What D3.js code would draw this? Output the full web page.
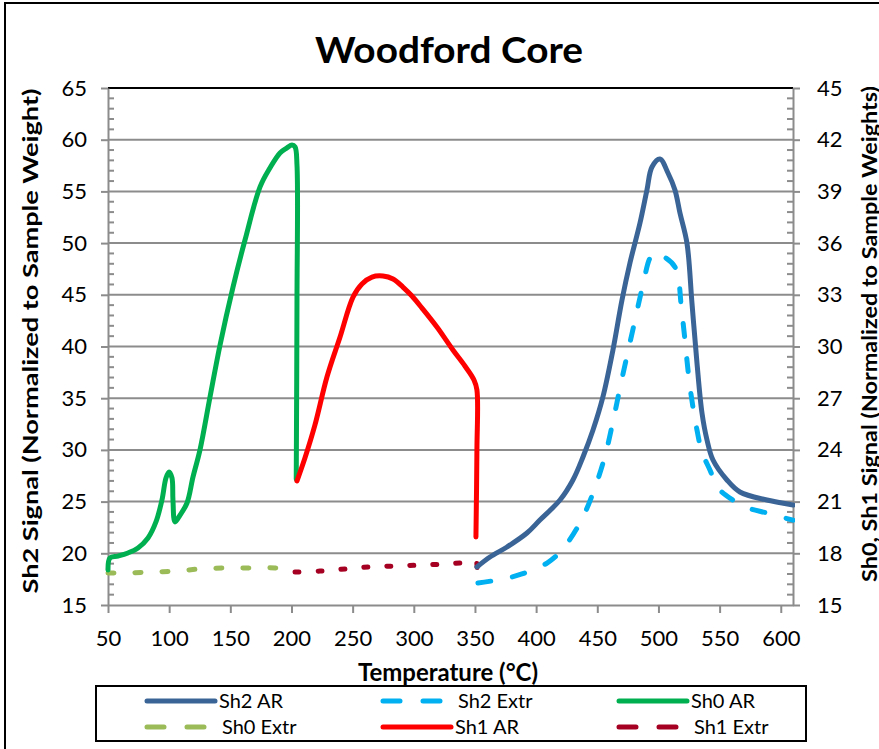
<!DOCTYPE html>
<html>
<head>
<meta charset="utf-8">
<script src="https://cdn.jsdelivr.net/npm/d3@7"></script>
<style>
  html, body { margin: 0; padding: 0; background: #fff; }
  svg text { font-family: Lato, "Open Sans", sans-serif; fill: #000; }
</style>
</head>
<body>
<svg id="chart" width="879" height="749"></svg>
<script>
// ---- Data: temperature (°C) and normalized signal ----
// Sh2 series are read against the left axis, Sh0/Sh1 against the right axis.
const sh2ArT = [351.6, 362.3, 376.2, 392.5, 403.1, 419.5, 430.1, 438.3, 446.5, 454.6, 462.8, 470.2, 476.7, 484.9, 490.6, 494.7, 501.2, 507.8, 513.5, 517.6, 523.3, 527.4, 531.5, 535.6, 539.7, 544.6, 556.0, 566.6, 588.7, 610];
const sh2ArV = [18.68, 19.64, 20.61, 21.96, 23.22, 25.15, 27.09, 29.31, 31.92, 35.12, 39.66, 44.50, 48.08, 51.94, 55.14, 57.36, 58.13, 56.78, 55.14, 52.91, 50.01, 44.21, 38.40, 33.57, 30.96, 29.02, 27.09, 25.93, 25.15, 24.67];

const sh2ExtrT = [352.4, 372.9, 388.4, 408.9, 421.1, 435.8, 446.5, 456.3, 463.6, 469.4, 478.3, 487.3, 493.1, 497.2, 502.9, 513.5, 519.2, 525.8, 531.5, 535.6, 542.1, 548.7, 560.9, 573.2, 588.7, 610];
const sh2ExtrV = [17.13, 17.51, 18.00, 19.06, 20.32, 22.93, 25.83, 29.41, 33.18, 36.47, 41.21, 45.95, 48.56, 49.10, 48.80, 47.69, 43.24, 36.08, 31.92, 29.80, 28.06, 26.32, 25.15, 24.38, 23.90, 23.20];

const sh0ArT = [50, 51.6, 58.2, 66.3, 74.5, 82.7, 89.2, 94.1, 97.4, 99.9, 102.3, 103.1, 104.8, 108.9, 114.6, 119.5, 125.2, 133.4, 141.6, 152.2, 162.0, 174.3, 182.4, 190.6, 196.3, 200.4, 202.9, 204.5, 204.5, 203.9];
const sh0ArV = [17.03, 17.73, 17.84, 18.02, 18.31, 18.89, 19.82, 21.09, 22.37, 22.72, 22.37, 21.09, 19.82, 20.22, 20.92, 22.43, 24.00, 27.07, 30.09, 33.45, 36.18, 39.26, 40.36, 41.23, 41.52, 41.69, 41.58, 40.53, 32.70, 22.30];

const sh0ExtrT = [50, 63.9, 84.3, 104.8, 125.2, 145.6, 166.1, 186.5, 197.1];
const sh0ExtrV = [16.86, 16.86, 16.91, 16.97, 17.09, 17.15, 17.15, 17.15, 17.09];

const sh1ArT = [204.5, 211.0, 219.2, 229.0, 239.7, 250.3, 257.6, 265.8, 274.8, 283.0, 291.1, 298.5, 306.7, 318.9, 332.0, 341.8, 349.2, 351.6, 351.6, 350.8];
const sh1ArV = [22.20, 23.53, 25.45, 28.23, 30.55, 32.87, 33.63, 34.03, 34.09, 33.92, 33.45, 32.93, 32.23, 31.13, 29.80, 28.87, 28.06, 27.48, 24.00, 18.95];

const sh1ExtrT = [202.9, 223.3, 243.7, 264.2, 284.6, 305.0, 325.5, 345.9, 350.8, 351.6];
const sh1ExtrV = [16.91, 16.97, 17.09, 17.21, 17.26, 17.32, 17.38, 17.50, 17.55, 16.91];

// ---- Axis ticks ----
const xTicks = [50, 100, 150, 200, 250, 300, 350, 400, 450, 500, 550, 600];
const yLeftTicks = [15, 20, 25, 30, 35, 40, 45, 50, 55, 60, 65];
const yRightTicks = [15, 18, 21, 24, 27, 30, 33, 36, 39, 42, 45];

const seriesNames = ["Sh2 AR", "Sh2 Extr", "Sh0 AR", "Sh0 Extr", "Sh1 AR", "Sh1 Extr"];
const seriesColors = ["#3A6496", "#00B0F0", "#00B050", "#9BBB59", "#FF0000", "#A50021"];

// ---- Layout ----
const svg = d3.select("#chart");
const plot = { left: 108, right: 793, top: 88, bottom: 605 };

const x = d3.scaleLinear().domain([50, 610]).range([plot.left, plot.right]);
const yL = d3.scaleLinear().domain([15, 65]).range([plot.bottom, plot.top]);
const yR = d3.scaleLinear().domain([15, 45]).range([plot.bottom, plot.top]);

// Outer chart border
svg.append("rect")
  .attr("x", 5).attr("y", 3).attr("width", 900).attr("height", 800)
  .attr("fill", "none").attr("stroke", "#000").attr("stroke-width", 2);

// Title
svg.append("text")
  .attr("x", 449).attr("y", 63)
  .attr("text-anchor", "middle")
  .attr("textLength", 268).attr("lengthAdjust", "spacingAndGlyphs")
  .style("font-size", "37px").style("font-weight", "bold")
  .text("Woodford Core");

// Horizontal gridlines
svg.append("g").selectAll("line")
  .data(yLeftTicks.slice(1, -1))
  .join("line")
  .attr("x1", plot.left).attr("x2", plot.right)
  .attr("y1", d => yL(d)).attr("y2", d => yL(d))
  .attr("stroke", "#8c8c8c").attr("stroke-width", 2);

// Top border of plot area
svg.append("line")
  .attr("x1", plot.left).attr("x2", plot.right)
  .attr("y1", plot.top).attr("y2", plot.top)
  .attr("stroke", "#000").attr("stroke-width", 2);

// Axes
const axisColor = "#8c8c8c";
function styleAxis(g) {
  g.selectAll(".domain").attr("stroke", axisColor).attr("stroke-width", 2);
  g.selectAll(".tick line").attr("stroke", axisColor).attr("stroke-width", 2);
  g.selectAll(".tick text").style("font-size", "22px").style("font-family", "Lato, 'Open Sans', sans-serif").attr("fill", "#000");
}

// Minor ticks (inside the plot)
const leftMinor = d3.range(15, 65.001, 1).filter(v => v % 5 !== 0);
const rightMinor = d3.range(15, 45.001, 0.6).map(v => +v.toFixed(1)).filter(v => Math.abs(v / 3 - Math.round(v / 3)) > 1e-6);

svg.append("g").selectAll("line").data(leftMinor).join("line")
  .attr("x1", plot.left).attr("x2", plot.left + 6)
  .attr("y1", d => yL(d)).attr("y2", d => yL(d))
  .attr("stroke", axisColor).attr("stroke-width", 2);
svg.append("g").selectAll("line").data(rightMinor).join("line")
  .attr("x1", plot.right).attr("x2", plot.right - 6)
  .attr("y1", d => yR(d)).attr("y2", d => yR(d))
  .attr("stroke", axisColor).attr("stroke-width", 2);

const gx = svg.append("g")
  .attr("transform", `translate(0,${plot.bottom})`)
  .call(d3.axisBottom(x).tickValues(xTicks).tickSize(8).tickSizeOuter(0).tickPadding(17));
styleAxis(gx);

const gyl = svg.append("g")
  .attr("transform", `translate(${plot.left},0)`)
  .call(d3.axisLeft(yL).tickValues(yLeftTicks).tickSize(7).tickSizeOuter(0).tickPadding(14));
styleAxis(gyl);

const gyr = svg.append("g")
  .attr("transform", `translate(${plot.right},0)`)
  .call(d3.axisRight(yR).tickValues(yRightTicks).tickSize(7).tickSizeOuter(0).tickPadding(17));
styleAxis(gyr);

// Axis titles
svg.append("text")
  .attr("x", 448).attr("y", 681)
  .attr("text-anchor", "middle")
  .attr("textLength", 180).attr("lengthAdjust", "spacingAndGlyphs")
  .style("font-size", "24px").style("font-weight", "bold")
  .text("Temperature (°C)");

svg.append("text")
  .attr("transform", "translate(38,341) rotate(-90)")
  .attr("text-anchor", "middle")
  .attr("textLength", 505).attr("lengthAdjust", "spacingAndGlyphs")
  .style("font-size", "20px").style("font-weight", "bold")
  .text("Sh2 Signal (Normalized to Sample Weight)");

svg.append("text")
  .attr("transform", "translate(877,334) rotate(-90)")
  .attr("text-anchor", "middle")
  .attr("textLength", 496).attr("lengthAdjust", "spacingAndGlyphs")
  .style("font-size", "20px").style("font-weight", "bold")
  .text("Sh0, Sh1 Signal (Normalized to Sample Weights)");

// ---- Series ----
svg.append("defs").append("clipPath").attr("id", "plotClip")
  .append("rect").attr("x", plot.left - 4).attr("y", plot.top).attr("width", plot.right - plot.left + 6).attr("height", plot.bottom - plot.top);

const series = [
  { t: sh2ArT, v: sh2ArV, y: yL, dash: null },
  { t: sh2ExtrT, v: sh2ExtrV, y: yL, dash: "13,22" },
  { t: sh0ArT, v: sh0ArV, y: yR, dash: null },
  { t: sh0ExtrT, v: sh0ExtrV, y: yR, dash: "6,21" },
  { t: sh1ArT, v: sh1ArV, y: yR, dash: null },
  { t: sh1ExtrT, v: sh1ExtrV, y: yR, dash: "4,19" }
];

const gSeries = svg.append("g").attr("clip-path", "url(#plotClip)");
// Draw order: Extr first so AR lines sit on top
[3, 5, 1, 2, 4, 0].forEach(i => {
  const s = series[i];
  const pts = s.t.map((t, k) => [t, s.v[k]]);
  const line = d3.line()
    .x(d => x(d[0]))
    .y(d => s.y(d[1]))
    .curve(d3.curveCatmullRom.alpha(0.5));
  gSeries.append("path")
    .attr("d", line(pts))
    .attr("fill", "none")
    .attr("stroke", seriesColors[i])
    .attr("stroke-width", 5)
    .attr("stroke-linecap", "round")
    .attr("stroke-linejoin", "round")
    .attr("stroke-dasharray", s.dash);
});

// ---- Legend ----
const legend = svg.append("g");
legend.append("rect")
  .attr("x", 96).attr("y", 686).attr("width", 710).attr("height", 55)
  .attr("fill", "#fff").attr("stroke", "#000").attr("stroke-width", 2);

const colX = [147, 383, 619];
const rowY = [701, 727];
seriesNames.forEach((name, i) => {
  const cx = colX[i % 3], cy = rowY[Math.floor(i / 3)];
  const dashed = series[i].dash !== null;
  legend.append("line")
    .attr("x1", cx).attr("x2", dashed ? cx + 60 : cx + 68)
    .attr("y1", cy).attr("y2", cy)
    .attr("stroke", seriesColors[i]).attr("stroke-width", 5)
    .attr("stroke-linecap", "round")
    .attr("stroke-dasharray", dashed ? "17,23" : null);
  legend.append("text")
    .attr("x", dashed ? cx + 75 : cx + 72).attr("y", cy + 7)
    .style("font-size", "20px")
    .text(name);
});
</script>
</body>
</html>
